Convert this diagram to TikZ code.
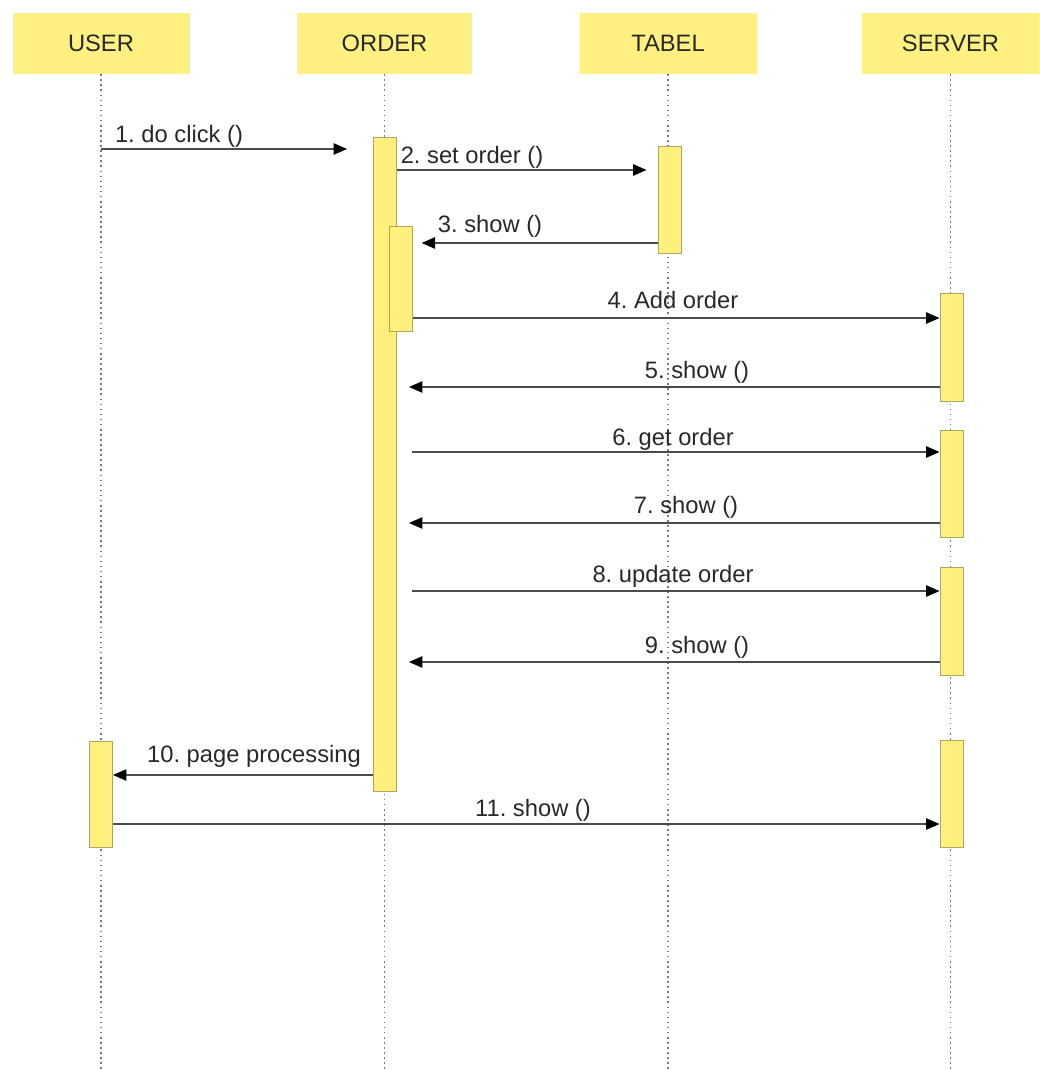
\documentclass[tikz,border=0pt]{standalone}
\usepackage{fontspec}
\setmainfont{Liberation Sans}
\usetikzlibrary{arrows.meta}
\definecolor{hdrfill}{RGB}{255,240,130}
\definecolor{actfill}{RGB}{255,240,125}
\definecolor{actdraw}{RGB}{175,165,100}
\definecolor{txt}{RGB}{40,40,40}
\definecolor{msgline}{RGB}{75,75,75}
\definecolor{lifeline}{RGB}{120,120,130}
\tikzset{
  hdr/.style={fill=hdrfill, draw=none, minimum width=132.75pt, minimum height=45.75pt, inner sep=0pt,
    font=\fontsize{17.8}{20}\selectfont, text=txt},
  act/.style={fill=actfill, draw=actdraw, line width=0.5pt, minimum width=17.5pt, inner sep=0pt},
  life/.style={draw=lifeline, line width=0.9pt, dash pattern=on 1.2pt off 2.6pt},
  msg/.style={draw=msgline, line width=1pt, -{Triangle[length=10pt,width=8.5pt,color=black]}},
  lbl/.style={font=\fontsize{17.8}{20}\selectfont, text=txt, inner sep=0pt, anchor=base}
}
\begin{document}
\frenchspacing
\begin{tikzpicture}[x=0.75pt,y=-0.75pt]
\path[use as bounding box] (0,0) rectangle (1039,1070);
% headers
\node[hdr] (user) at (101,43.5) {USER};
\node[hdr, minimum width=131.25pt] (order) at (384.5,43.5) {ORDER};
\node[hdr] (tabel) at (668,43.5) {TABEL};
\node[hdr] (server) at (950.5,43.5) {SERVER};
% lifeline ends
\coordinate (uEnd) at (101,1070);
\coordinate (oEnd) at (384.5,1070);
\coordinate (tEnd) at (668,1070);
\coordinate (sEnd) at (950.5,1070);
\draw[life] (user.south) -- (uEnd);
\draw[life] (order.south) -- (oEnd);
\draw[life] (tabel.south) -- (tEnd);
\draw[life] (server.south) -- (sEnd);
% activations
\node[act, minimum height=490.5pt] (oMain) at (385,464) {};
\node[act, minimum height=78.75pt] (oSub) at (401,278.5) {};
\node[act, minimum height=80.25pt] (tA) at (669.5,199.5) {};
\node[act, minimum height=81pt] (s1) at (951.5,347) {};
\node[act, minimum height=80.25pt] (s2) at (951.5,483.5) {};
\node[act, minimum height=81pt] (s3) at (951.5,621) {};
\node[act, minimum height=80.25pt] (s4) at (951.5,793.5) {};
\node[act, minimum height=79.5pt] (uA) at (101,794) {};
% message rows
\coordinate (r1) at (0,149);
\coordinate (r2) at (0,170);
\coordinate (r3) at (0,243);
\coordinate (r4) at (0,318);
\coordinate (r5) at (0,387);
\coordinate (r6) at (0,452);
\coordinate (r7) at (0,523);
\coordinate (r8) at (0,591);
\coordinate (r9) at (0,662);
\coordinate (r10) at (0,775);
\coordinate (r11) at (0,824);
% messages
\draw[msg, shorten >=19.5pt] (user.south |- r1) -- (oMain.west |- r1);
\draw[msg, shorten >=8.25pt] (oMain.east |- r2) -- (tA.west |- r2);
\draw[msg, shorten >=6.5pt] (tA.west |- r3) -- (oSub.east |- r3);
\draw[msg] (oSub.east |- r4) -- (s1.west |- r4);
\draw[msg, shorten >=9pt] (s1.west |- r5) -- (oMain.east |- r5);
\draw[msg, shorten <=11.25pt] (oMain.east |- r6) -- (s2.west |- r6);
\draw[msg, shorten >=9pt] (s2.west |- r7) -- (oMain.east |- r7);
\draw[msg, shorten <=11.25pt] (oMain.east |- r8) -- (s3.west |- r8);
\draw[msg, shorten >=9pt] (s3.west |- r9) -- (oMain.east |- r9);
\draw[msg] (oMain.west |- r10) -- (uA.east |- r10);
\draw[msg] (uA.east |- r11) -- (s4.west |- r11);
% labels
\node[lbl] (l1) at (179,143) {1. do click ()};
\node[lbl] (l2) at (472,163) {2. set order ()};
\node[lbl] (l3) at (490,232) {3. show ()};
\node[lbl] (l4) at (673,308) {4. Add order};
\node[lbl] (l5) at (697,378) {5. show ()};
\node[lbl] (l6) at (673,445) {6. get order};
\node[lbl] (l7) at (686,513) {7. show ()};
\node[lbl] (l8) at (673,582) {8. update order};
\node[lbl] (l9) at (697,653) {9. show ()};
\node[lbl] (l10) at (254,762) {10. page processing};
\node[lbl] (l11) at (533,816) {11. show ()};
\end{tikzpicture}
\end{document}
